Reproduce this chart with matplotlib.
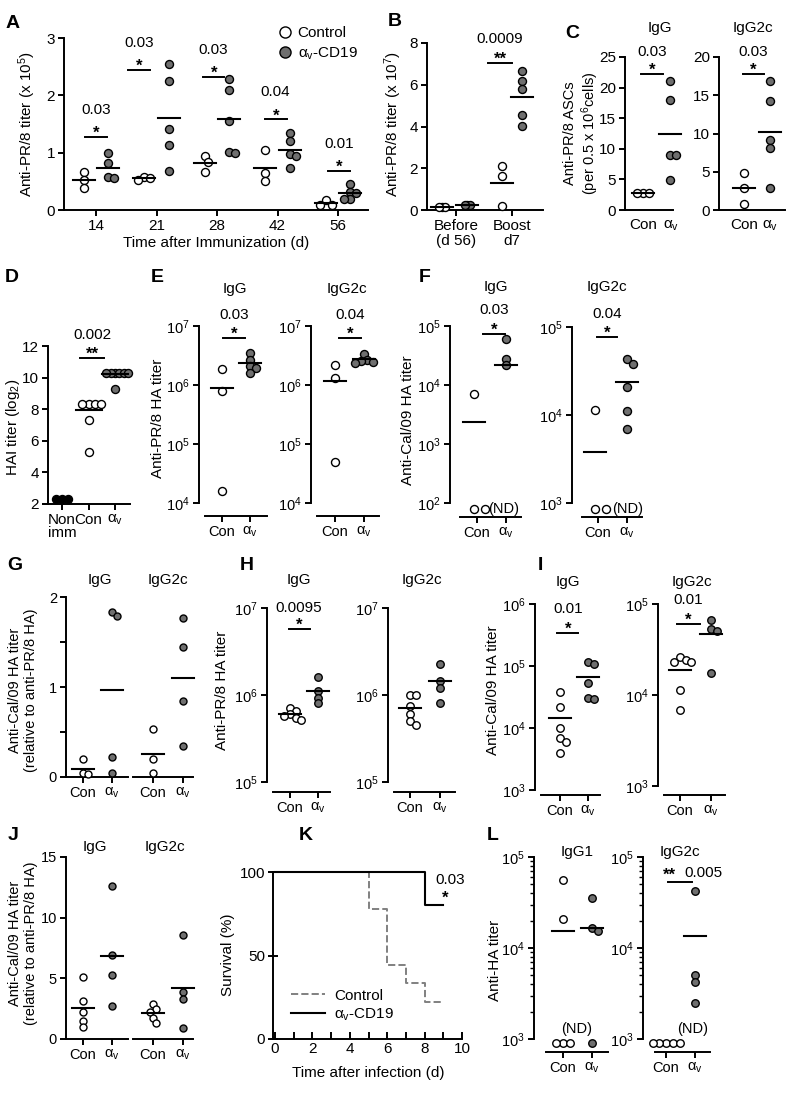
import numpy as np
import matplotlib.pyplot as plt
from matplotlib.lines import Line2D
from matplotlib.ticker import FuncFormatter, NullLocator

plt.rcParams['font.family'] = ['Liberation Sans', 'DejaVu Sans']
plt.rcParams['mathtext.fontset'] = 'custom'
plt.rcParams['mathtext.rm'] = 'Liberation Sans'
plt.rcParams['mathtext.it'] = 'Liberation Sans:italic'
plt.rcParams['font.size'] = 11
plt.rcParams['axes.linewidth'] = 1.4

W, H = 796, 1105
GRAY = '#6f6f6f'
AV = r'α$_{\mathregular{v}}$'

# ---- data ----
# A: anti-PR/8 titer (x10^5) by day
a_days = ['14', '21', '28', '42', '56']
a_con = [[0.67, 0.52, 0.39], [0.57, 0.55, 0.53], [0.94, 0.84, 0.67],
         [1.04, 0.64, 0.50], [0.17, 0.09, 0.09]]
a_cd19 = [[0.99, 0.82, 0.57, 0.55], [2.54, 2.25, 1.42, 1.13, 0.68],
          [2.28, 2.10, 1.56, 1.02, 1.00], [1.35, 1.21, 0.97, 0.94, 0.73],
          [0.46, 0.32, 0.29, 0.20, 0.19]]
a_p = ['0.03', '0.03', '0.03', '0.04', '0.01']

# B: anti-PR/8 titer (x10^7)
b_groups = ['Before\n(d 56)', 'Boost\nd7']
b_con = [[0.16, 0.16, 0.16], [2.12, 1.63, 0.19]]
b_cd19 = [[0.24, 0.24, 0.24], [6.66, 6.17, 5.78, 4.54, 4.03]]

# C: ASCs per 0.5x10^6 cells
c_igg_con = [2.84, 2.84, 2.84]
c_igg_cd19 = [21, 18, 9, 9, 4.9]
c_g2c_con = [4.9, 2.84, 0.79]
c_g2c_cd19 = [16.9, 14.2, 9.1, 8.1, 2.84]

# D: HAI titer (log2)
d_nonimm = [2.3, 2.3, 2.3]
d_con = [8.3, 8.3, 8.3, 8.3, 7.3, 5.3]
d_cd19 = [10.3, 10.3, 10.3, 10.3, 10.3, 10.3, 9.3]
d_means = [None, 7.97, 10.25]

# E: anti-PR/8 HA titer
e_igg_con = [1.9e6, 8.0e5, 1.6e4]
e_igg_cd19 = [3.5e6, 2.7e6, 2.1e6, 1.96e6, 1.58e6]
e_g2c_con = [2.2e6, 1.3e6, 5.0e4]
e_g2c_cd19 = [3.4e6, 2.7e6, 2.6e6, 2.5e6, 2.4e6]

# F: anti-Cal/09 HA titer (0 = not detected)
f_igg_con = [7.0e3, 0, 0]
f_igg_cd19 = [6.0e4, 2.8e4, 2.2e4]
f_igg_cd19_mean = 2.2e4
f_g2c_con = [1.15e4, 0, 0]
f_g2c_cd19 = [4.3e4, 3.8e4, 2.1e4, 1.1e4, 7.0e3]

# G: Cal/09 relative to PR/8
g_igg_con = [0.20, 0.05, 0.03]
g_igg_cd19 = [1.83, 1.79, 0.22, 0.04]
g_g2c_con = [0.53, 0.20, 0.05]
g_g2c_cd19 = [1.77, 1.44, 0.85, 0.35]

# H: anti-PR/8 HA titer
h_igg_con = [7.0e5, 6.5e5, 6.0e5, 5.8e5, 5.5e5, 5.2e5]
h_igg_cd19 = [1.6e6, 1.1e6, 9.3e5, 8.0e5]
h_g2c_con = [1.0e6, 1.0e6, 7.5e5, 6.0e5, 5.0e5, 4.5e5]
h_g2c_cd19 = [2.3e6, 1.45e6, 1.2e6, 8.0e5]

# I: anti-Cal/09 HA titer
i_igg_con = [3.8e4, 2.2e4, 1.0e4, 7.0e3, 6.0e3, 4.0e3]
i_igg_cd19 = [1.16e5, 1.08e5, 5.3e4, 3.05e4, 2.9e4]
i_g2c_con = [2.6e4, 2.4e4, 2.3e4, 2.3e4, 1.13e4, 6.9e3]
i_g2c_cd19 = [6.6e4, 5.3e4, 5.0e4, 1.75e4]

# J: Cal/09 relative to PR/8
j_igg_con = [5.1, 3.1, 2.25, 1.5, 1.0]
j_igg_cd19 = [12.6, 6.9, 5.3, 2.7]
j_g2c_con = [2.9, 2.5, 2.2, 1.7, 1.3]
j_g2c_cd19 = [8.6, 3.9, 3.3, 0.9]

# K: survival (%)
k_con_days = [0, 5, 6, 7, 8, 9]
k_con_surv = [100, 77.8, 44.4, 33.3, 22.2, 22.2]
k_cd19_days = [0, 8, 9]
k_cd19_surv = [100, 80, 80]

# L: anti-HA titer (0 = not detected)
l_igg1_con = [5.6e4, 2.1e4, 0, 0, 0]
l_igg1_cd19 = [3.5e4, 1.65e4, 1.55e4, 0]
l_g2c_con = [0, 0, 0, 0, 0]
l_g2c_cd19 = [4.2e4, 5.0e3, 4.2e3, 2.5e3]

fig = plt.figure(figsize=(W / 100, H / 100), dpi=100)


def T(x, y, s, **kw):
    kw.setdefault('ha', 'center')
    kw.setdefault('va', 'center')
    return fig.text(x / W, 1 - y / H, s, **kw)


def px_ax(l, r, t, b, fs=11):
    ax = fig.add_axes([l / W, 1 - b / H, (r - l) / W, (b - t) / H])
    ax.patch.set_visible(False)
    ax.spines['top'].set_visible(False)
    ax.spines['right'].set_visible(False)
    ax.tick_params(length=4.5, width=1.4, pad=2, labelsize=fs)
    return ax


def xlim_px(ax, l, r, t0, t1):
    s = t1 - t0
    ax.set_xlim((l - t0) / s, (r - t0) / s)
    ax.set_xticks([0, 1])


def ylim_px(ax, t, b, p_hi, v_hi, p_lo, v_lo, log=False):
    if log:
        ax.set_yscale('log')
        a, c = np.log10(v_hi), np.log10(v_lo)
    else:
        a, c = v_hi, v_lo
    k = (a - c) / (p_lo - p_hi)
    top = a + (p_hi - t) * k
    bot = c - (b - p_lo) * k
    if log:
        top, bot = 10 ** top, 10 ** bot
    ax.set_ylim(bot, top)


def data_x(ax, px):
    return ax.transData.inverted().transform((px, 0))[0]


def data_y(ax, py):
    return ax.transData.inverted().transform((0, H - py))[1]


def log_axis(ax, lo, hi):
    ax.yaxis.set_major_formatter(FuncFormatter(
        lambda v, p: r'10$^{\mathregular{%d}}$' % round(np.log10(v))))
    ax.set_yticks([10.0 ** e for e in range(lo, hi + 1)])
    ax.yaxis.set_minor_locator(NullLocator())
    ax.spines['left'].set_bounds(10.0 ** lo, 10.0 ** hi)


def group(ax, xc, vals, filled, mean=None, floor=None, gap=0.75, d=8,
          mw=22, color=GRAY, show_mean=True):
    vals = np.asarray(vals, float)
    shown = np.where(vals > 0, vals, floor) if floor is not None else vals
    tr = ax.transData
    placed, xs = [], []
    step = gap * d / 2
    for v in shown:
        px, py = tr.transform((xc, v))
        cx = px
        for k in [0, 1, -1, 2, -2, 3, -3, 4, -4, 5, -5, 6, -6]:
            cx = px + k * step
            if all((cx - qx) ** 2 + (py - qy) ** 2 >= (gap * d) ** 2 - 1e-6
                   for qx, qy in placed):
                break
        placed.append((cx, py))
        xs.append(tr.inverted().transform((cx, py))[0])
    ax.scatter(xs, shown, s=(d * 0.72) ** 2, c=color if filled else 'white',
               edgecolors='black', linewidths=1.0, zorder=3, clip_on=False)
    if show_mean:
        m = vals.mean() if mean is None else mean
        if m > 0:
            ppu = tr.transform((1, 0))[0] - tr.transform((0, 0))[0]
            hw = mw / 2 / ppu
            ax.plot([xc - hw, xc + hw], [m, m], color='black', lw=1.5,
                    zorder=4, clip_on=False)


def sig(ax, x0, x1, y, star, p=None, p_off=24, fs=11, p_dx=0):
    ax.plot([x0, x1], [y, y], color='black', lw=1.4, clip_on=False)
    xc = (x0 + x1) / 2
    ax.annotate(star, (xc, y), xytext=(0, -0.7), textcoords='offset points',
                ha='center', va='baseline', fontsize=fs + 1, fontweight='bold')
    if p:
        ax.annotate(p, (xc, y), xytext=(p_dx * 0.72, p_off * 0.72),
                    textcoords='offset points', ha='center', va='center',
                    fontsize=fs)


def con_av(ax):
    ax.set_xticklabels(['Con', AV])


# ---------------- A ----------------
axA = px_ax(64, 368, 38, 210)
axA.set_xlim((64 - 96) / 60.5, (368 - 96) / 60.5)
axA.set_ylim(0, 3)
axA.set_yticks([0, 1, 2, 3])
axA.set_xticks(range(len(a_days)))
axA.set_xticklabels(a_days)
for i in range(len(a_days)):
    group(axA, i - 0.2, a_con[i], False)
    group(axA, i + 0.2, a_cd19[i], True)
a_bars = [(-0.18, 0.18, 1.27), (-0.47, -0.11, 2.44), (-0.23, 0.12, 2.32),
          (-0.21, 0.15, 1.58), (-0.17, 0.20, 0.68)]
for i, (x0, x1, y) in enumerate(a_bars):
    sig(axA, i + x0, i + x1, y, '*', a_p[i], p_off=27)
T(216, 243, 'Time after Immunization (d)', fontsize=11)
T(27, 124, r'Anti-PR/8 titer (x 10$^{\mathregular{5}}$)', rotation=90, fontsize=11)
axA.legend(handles=[Line2D([], [], marker='o', ls='none', mfc='white', mec='black', ms=8),
                    Line2D([], [], marker='o', ls='none', mfc=GRAY, mec='black', ms=8)],
           labels=['Control', AV + '-CD19'], loc='upper left',
           bbox_to_anchor=(270 / W, 1 - 20 / H), bbox_transform=fig.transFigure,
           frameon=False, handletextpad=0.2, borderaxespad=0, labelspacing=0.35,
           handlelength=1.2, fontsize=11)

# ---------------- B ----------------
axB = px_ax(427, 543, 43, 210)
xlim_px(axB, 427, 543, 456, 512)
axB.set_ylim(0, 8)
axB.set_yticks([0, 2, 4, 6, 8])
axB.set_xticklabels(b_groups, linespacing=1.05)
group(axB, -0.25, b_con[0], False, gap=0.35)
group(axB, 0.2, b_cd19[0], True, gap=0.3)
group(axB, 0.83, b_con[1], False)
group(axB, 1.17, b_cd19[1], True)
sig(axB, 0.57, 1.0, 7.06, '**', '0.0009')
T(393, 124, r'Anti-PR/8 titer (x 10$^{\mathregular{7}}$)', rotation=90, fontsize=11)

# ---------------- C ----------------
axC1 = px_ax(625, 673, 57, 210)
xlim_px(axC1, 625, 673, 643, 671)
axC1.set_ylim(0, 25)
axC1.set_yticks(range(0, 26, 5))
con_av(axC1)
axC1.tick_params(axis='x', length=0, pad=6)
group(axC1, 0, c_igg_con, False)
group(axC1, 0.95, c_igg_cd19, True)
sig(axC1, -0.07, 0.71, 22.3, '*', '0.03', p_off=22)
axC2 = px_ax(719, 785, 57, 210)
xlim_px(axC2, 719, 785, 744, 770)
axC2.set_ylim(0, 20)
axC2.set_yticks(range(0, 21, 5))
con_av(axC2)
axC2.tick_params(axis='x', length=0, pad=6)
group(axC2, 0, c_g2c_con, False)
group(axC2, 1.0, c_g2c_cd19, True)
sig(axC2, -0.04, 0.77, 17.8, '*', '0.03', p_off=22)
T(660, 28, 'IgG')
T(753, 28, 'IgG2c')
T(582, 133, 'Anti-PR/8 ASCs\n' + r'(per 0.5 x 10$^{\mathregular{6}}$cells)',
  rotation=90, fontsize=10.5, linespacing=1.1)

# ---------------- D ----------------
axD = px_ax(48, 130, 346, 504)
axD.set_xlim((48 - 62) / 26.5, (130 - 62) / 26.5)
axD.set_ylim(2, 12)
axD.set_yticks(range(2, 13, 2))
axD.set_xticks([0, 1, 2])
axD.set_xticklabels(['Non\nimm', 'Con', AV], linespacing=0.95)
axD.spines['bottom'].set_bounds(data_x(axD, 43), axD.get_xlim()[1])
group(axD, 0, d_nonimm, True, color='black', gap=0.8, show_mean=False)
group(axD, 1, d_con, False, mean=d_means[1], gap=0.8, mw=26)
group(axD, 2, d_cd19, True, mean=d_means[2], gap=0.55, mw=26)
sig(axD, 0.68, 1.58, 11.25, '**', '0.002', p_off=23)
T(13, 427, r'HAI titer (log$_{\mathregular{2}}$)', rotation=90, fontsize=11)

# ---------------- E ----------------
for (l, r, t0, t1, con, cd, tl, p, bx) in [
        (199, 267, 222, 250, e_igg_con, e_igg_cd19, 'IgG', '0.03', (0.04, 0.82)),
        (311, 379, 335, 364, e_g2c_con, e_g2c_cd19, 'IgG2c', '0.04', (0.14, 0.9))]:
    ax = px_ax(l, r, 326, 516, fs=10.5)
    xlim_px(ax, l, r, t0, t1)
    ylim_px(ax, 326, 516, 326, 1e7, 503, 1e4, log=True)
    log_axis(ax, 4, 7)
    ax.spines['bottom'].set_bounds(data_x(ax, l + 6), ax.get_xlim()[1])
    con_av(ax)
    group(ax, 0, con, False)
    group(ax, 1, cd, True)
    sig(ax, bx[0], bx[1], data_y(ax, 338), '*', p, p_off=23)
    T((l + r) / 2 + 2, 289, tl)
T(158, 418, 'Anti-PR/8 HA titer', rotation=90, fontsize=11)

# ---------------- F ----------------
axF1 = px_ax(450, 521, 326, 517, fs=10.5)
xlim_px(axF1, 450, 521, 477, 506)
ylim_px(axF1, 326, 517, 326, 1e5, 503, 1e2, log=True)
log_axis(axF1, 2, 5)
axF1.spines['bottom'].set_bounds(data_x(axF1, 460), axF1.get_xlim()[1])
con_av(axF1)
group(axF1, -0.1, f_igg_con, False, floor=data_y(axF1, 509), gap=1.4)
group(axF1, 1, f_igg_cd19, True, mean=f_igg_cd19_mean)
sig(axF1, 0.21, 0.97, data_y(axF1, 334), '*', '0.03', p_off=24)
T(504, 509, '(ND)', fontsize=10.5)
T(496, 287, 'IgG')

axF2 = px_ax(572, 642, 327, 517, fs=10.5)
xlim_px(axF2, 572, 642, 598, 627)
ylim_px(axF2, 327, 517, 327, 1e5, 503, 1e3, log=True)
log_axis(axF2, 3, 5)
axF2.spines['bottom'].set_bounds(data_x(axF2, 582), axF2.get_xlim()[1])
con_av(axF2)
group(axF2, -0.1, f_g2c_con, False, floor=data_y(axF2, 509), gap=1.4)
group(axF2, 1, f_g2c_cd19, True)
sig(axF2, -0.03, 0.66, data_y(axF2, 337), '*', '0.04', p_off=23)
T(628, 509, '(ND)', fontsize=10.5)
T(607, 287, 'IgG2c')
T(408, 420, 'Anti-Cal/09 HA titer', rotation=90, fontsize=11)

# ---------------- G ----------------
axG1 = px_ax(66, 128, 597, 777, fs=10.5)
xlim_px(axG1, 66, 128, 83, 112)
axG1.set_ylim(0, 2)
axG1.set_yticks([0, 1, 2])
axG1.set_yticks([0.5, 1.5], minor=True)
axG1.tick_params(axis='y', which='minor', length=4.5, width=1.4)
con_av(axG1)
group(axG1, 0, g_igg_con, False, d=7)
group(axG1, 1, g_igg_cd19, True, d=7)
axG2 = px_ax(133, 193, 597, 777, fs=10.5)
xlim_px(axG2, 133, 193, 153, 183)
axG2.set_ylim(0, 2)
axG2.spines['left'].set_visible(False)
axG2.set_yticks([])
con_av(axG2)
group(axG2, 0, g_g2c_con, False, d=7)
group(axG2, 1, g_g2c_cd19, True, d=7)
T(100, 580, 'IgG')
T(168, 580, 'IgG2c')
T(23, 690, 'Anti-Cal/09 HA titer\n(relative to anti-PR/8 HA)', rotation=90,
  fontsize=10.5, linespacing=1.15)

# ---------------- H ----------------
for (l, r, t0, t1, con, cd, tl) in [
        (267, 330, 290, 318, h_igg_con, h_igg_cd19, 'IgG'),
        (388, 455, 410, 440, h_g2c_con, h_g2c_cd19, 'IgG2c')]:
    ax = px_ax(l, r, 608, 792, fs=10.5)
    xlim_px(ax, l, r, t0, t1)
    ylim_px(ax, 608, 792, 608, 1e7, 695, 1e6, log=True)
    log_axis(ax, 5, 7)
    ax.spines['bottom'].set_bounds(data_x(ax, l + 6), ax.get_xlim()[1])
    con_av(ax)
    group(ax, 0, con, False, d=7.5)
    group(ax, 1, cd, True, d=7.5)
    T((l + r) / 2, 580, tl)
    if tl == 'IgG':
        sig(ax, -0.05, 0.7, data_y(ax, 629), '*', '0.0095', p_off=21)
T(222, 690, 'Anti-PR/8 HA titer', rotation=90, fontsize=11)

# ---------------- I ----------------
for (l, r, t0, t1, con, cd, tl, lo, hi, ptop, pbot, bar) in [
        (535, 600, 560, 588, i_igg_con, i_igg_cd19, 'IgG', 3, 6, 604, 790, 633),
        (658, 725, 680, 711, i_g2c_con, i_g2c_cd19, 'IgG2c', 3, 5, 604, 786, 624)]:
    ax = px_ax(l, r, ptop, 795, fs=10.5)
    xlim_px(ax, l, r, t0, t1)
    ylim_px(ax, ptop, 795, ptop, 10.0 ** hi, pbot, 10.0 ** lo, log=True)
    log_axis(ax, lo, hi)
    ax.spines['bottom'].set_bounds(data_x(ax, l + 6), ax.get_xlim()[1])
    con_av(ax)
    group(ax, 0, con, False, d=7.5)
    group(ax, 1, cd, True, d=7.5)
    sig(ax, -0.1, 0.65, data_y(ax, bar), '*', '0.01', p_off=24)
    T((l + r) / 2, 582, tl)
T(493, 690, 'Anti-Cal/09 HA titer', rotation=90, fontsize=11)

# ---------------- J ----------------
axJ1 = px_ax(66, 128, 857, 1039, fs=10.5)
xlim_px(axJ1, 66, 128, 83, 112)
axJ1.set_ylim(0, 15)
axJ1.set_yticks([0, 5, 10, 15])
con_av(axJ1)
group(axJ1, 0, j_igg_con, False, d=7)
group(axJ1, 1, j_igg_cd19, True, d=7)
axJ2 = px_ax(133, 193, 857, 1039, fs=10.5)
xlim_px(axJ2, 133, 193, 153, 183)
axJ2.set_ylim(0, 15)
axJ2.spines['left'].set_visible(False)
axJ2.set_yticks([])
con_av(axJ2)
group(axJ2, 0, j_g2c_con, False, d=7)
group(axJ2, 1, j_g2c_cd19, True, d=7)
T(95, 847, 'IgG')
T(165, 847, 'IgG2c')
T(23, 943, 'Anti-Cal/09 HA titer\n(relative to anti-PR/8 HA)', rotation=90,
  fontsize=10.5, linespacing=1.15)

# ---------------- K ----------------
axK = px_ax(273, 462, 872, 1039, fs=11)
axK.set_xlim((273 - 275) / 18.7, 10)
axK.set_ylim(0, 100)
axK.set_yticks([0, 50, 100])
axK.set_xticks([0, 2, 4, 6, 8, 10])
axK.set_xticks([1, 3, 5, 7, 9], minor=True)
axK.tick_params(axis='y', direction='inout', length=7)
axK.tick_params(axis='x', which='both', direction='in', length=5, width=1.4)
axK.step(k_con_days, k_con_surv, where='post', color='#808080', ls='--', lw=1.4,
         label='Control', clip_on=False)
axK.step(k_cd19_days, k_cd19_surv, where='post', color='black', lw=1.5,
         label=AV + '-CD19', clip_on=False)
axK.legend(loc='lower left', bbox_to_anchor=(285 / W, 1 - 1029 / H),
           bbox_transform=fig.transFigure, frameon=False, handlelength=2.2,
           handletextpad=0.6, borderaxespad=0, labelspacing=0.25, fontsize=11)
T(445, 898, '*', fontsize=12, fontweight='bold')
T(450, 880, '0.03')
T(368, 1073, 'Time after infection (d)')
T(228, 955, 'Survival (%)', rotation=90)

# ---------------- L ----------------
for (l, r, t0, t1, con, cd, tl, nd_x) in [
        (534, 608, 563, 592, l_igg1_con, l_igg1_cd19, 'IgG1', 577),
        (643, 710, 666, 695, l_g2c_con, l_g2c_cd19, 'IgG2c', 693)]:
    ax = px_ax(l, r, 857, 1052, fs=10.5)
    xlim_px(ax, l, r, t0, t1)
    ylim_px(ax, 857, 1052, 857, 1e5, 1039, 1e3, log=True)
    log_axis(ax, 3, 5)
    ax.set_yticks([m * 10.0 ** e for e in (3, 4) for m in range(2, 10)], minor=True)
    ax.tick_params(axis='y', which='minor', length=3, width=1.0)
    ax.spines['bottom'].set_bounds(data_x(ax, l + 12), ax.get_xlim()[1])
    con_av(ax)
    fl = data_y(ax, 1043)
    group(ax, 0, con, False, floor=fl, d=7.5, gap=0.9)
    group(ax, 1, cd, True, floor=fl, d=7.5)
    T(nd_x, 1029, '(ND)', fontsize=10.5)
    T(t0 + 14, 852, tl)
    if tl == 'IgG2c':
        ax.plot([data_x(ax, 668), data_x(ax, 692)], [data_y(ax, 882)] * 2,
                color='black', lw=1.4, clip_on=False)
        T(669, 875, '**', fontweight='bold', fontsize=12)
        T(703, 873, '0.005')
T(495, 960, 'Anti-HA titer', rotation=90)

# panel letters
for s, x, y in [('A', 13, 23), ('B', 395, 22), ('C', 572, 33), ('D', 12, 278),
                ('E', 157, 277), ('F', 425, 277), ('G', 15, 565), ('H', 247, 565),
                ('I', 540, 565), ('J', 13, 835), ('K', 306, 835), ('L', 493, 835)]:
    T(x, y, s, fontsize=14, fontweight='bold')

fig.savefig('out.png', dpi=100)
